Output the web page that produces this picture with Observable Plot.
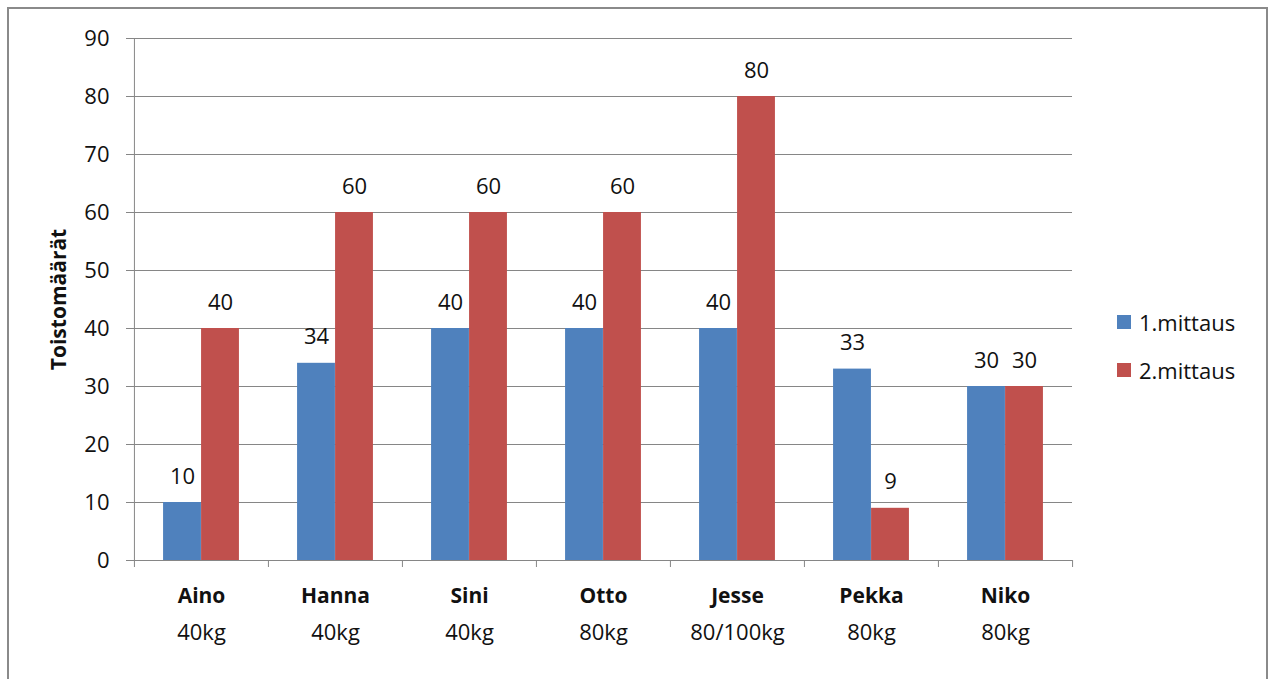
<!DOCTYPE html>
<html>
<head>
<meta charset="utf-8">
<script src="https://cdn.jsdelivr.net/npm/d3@7"></script>
<script src="https://cdn.jsdelivr.net/npm/@observablehq/plot@0.6"></script>
<style>
  html, body { margin: 0; padding: 0; background: #fff; }
  body { width: 1270px; height: 679px; position: relative; overflow: hidden; font-family: "Open Sans", sans-serif; }
  #frame { position: absolute; left: 7px; top: 7px; width: 1261px; height: 700px; border: 2px solid #8a8a8a; box-sizing: border-box; }
  #chart { position: absolute; left: 0; top: 0; }
  .leg { position: absolute; left: 1117px; display: flex; align-items: center; font-size: 22px; color: #111; }
  .sw { width: 14px; height: 14px; margin-right: 8px; }
</style>
</head>
<body>
<div id="frame"></div>
<div id="chart"></div>
<div id="legend"></div>
<script>
const names = ["Aino", "Hanna", "Sini", "Otto", "Jesse", "Pekka", "Niko"];
const weights = ["40kg", "40kg", "40kg", "80kg", "80/100kg", "80kg", "80kg"];
const mittaus1 = [10, 34, 40, 40, 40, 33, 30];
const mittaus2 = [40, 60, 60, 60, 80, 9, 30];
const seriesNames = ["1.mittaus", "2.mittaus"];
const seriesColors = ["#4F81BD", "#C0504D"];
const yTicks = [0, 10, 20, 30, 40, 50, 60, 70, 80, 90];
const yLabel = "Toistomäärät";

const W = 1270, H = 679;
const mL = 133, mR = 198, mT = 38, mB = 119;
const band = (W - mL - mR) / names.length;
const barW = 38;

const rows1 = names.map((n, i) => ({name: n, value: mittaus1[i]}));
const rows2 = names.map((n, i) => ({name: n, value: mittaus2[i]}));
const weightOf = new Map(names.map((n, i) => [n, weights[i]]));
const gridColor = "#868686";

const plot = Plot.plot({
  width: W, height: H,
  marginLeft: mL, marginRight: mR, marginTop: mT, marginBottom: mB,
  style: {fontFamily: "Open Sans, sans-serif", fontSize: "22px", color: "#111", background: "transparent"},
  x: {type: "band", domain: names, padding: 0, label: null},
  y: {domain: [0, 90], label: null},
  marks: [
    Plot.ruleY(yTicks, {stroke: gridColor, strokeWidth: 1}),
    Plot.ruleX([names[0]], {x: d => d, dx: -band / 2, y1: 0, y2: 90, stroke: gridColor}),
    Plot.ruleX(names, {x: d => d, dx: -band / 2, y1: 0, y2: 0, insetBottom: -7, stroke: gridColor}),
    Plot.ruleX([names[names.length - 1]], {x: d => d, dx: band / 2, y1: 0, y2: 0, insetBottom: -7, stroke: gridColor}),
    Plot.barY(rows1, {x: "name", y: "value", fill: seriesColors[0], insetLeft: band / 2 - barW, insetRight: band / 2}),
    Plot.barY(rows2, {x: "name", y: "value", fill: seriesColors[1], insetLeft: band / 2, insetRight: band / 2 - barW}),
    Plot.text(rows1, {x: "name", y: "value", text: d => String(d.value), dx: -barW / 2, dy: -26, fill: "#111", fontSize: 22}),
    Plot.text(rows2, {x: "name", y: "value", text: d => String(d.value), dx: barW / 2, dy: -26, fill: "#111", fontSize: 22}),
    Plot.axisY({ticks: yTicks, tickSize: 7, tickPadding: 17, stroke: gridColor, label: null, fontSize: 22, color: "#111"}),
    Plot.axisX({tickSize: 0, tickPadding: 28, label: null, fontWeight: "bold", fontSize: 21}),
    Plot.axisX({tickSize: 0, tickPadding: 64, label: null, fontSize: 22, tickFormat: d => weightOf.get(d)}),
    Plot.text([yLabel], {frameAnchor: "left", textAnchor: "middle", dx: -74, rotate: -90, fontWeight: "bold", fontSize: 21, fill: "#111"})
  ]
});
document.getElementById("chart").appendChild(plot);

const legend = document.getElementById("legend");
seriesNames.forEach((s, i) => {
  const row = document.createElement("div");
  row.className = "leg";
  row.style.top = (307 + i * 48) + "px";
  row.style.height = "30px";
  const sw = document.createElement("div");
  sw.className = "sw";
  sw.style.background = seriesColors[i];
  row.appendChild(sw);
  const t = document.createElement("span");
  t.textContent = s;
  row.appendChild(t);
  legend.appendChild(row);
});
</script>
</body>
</html>
